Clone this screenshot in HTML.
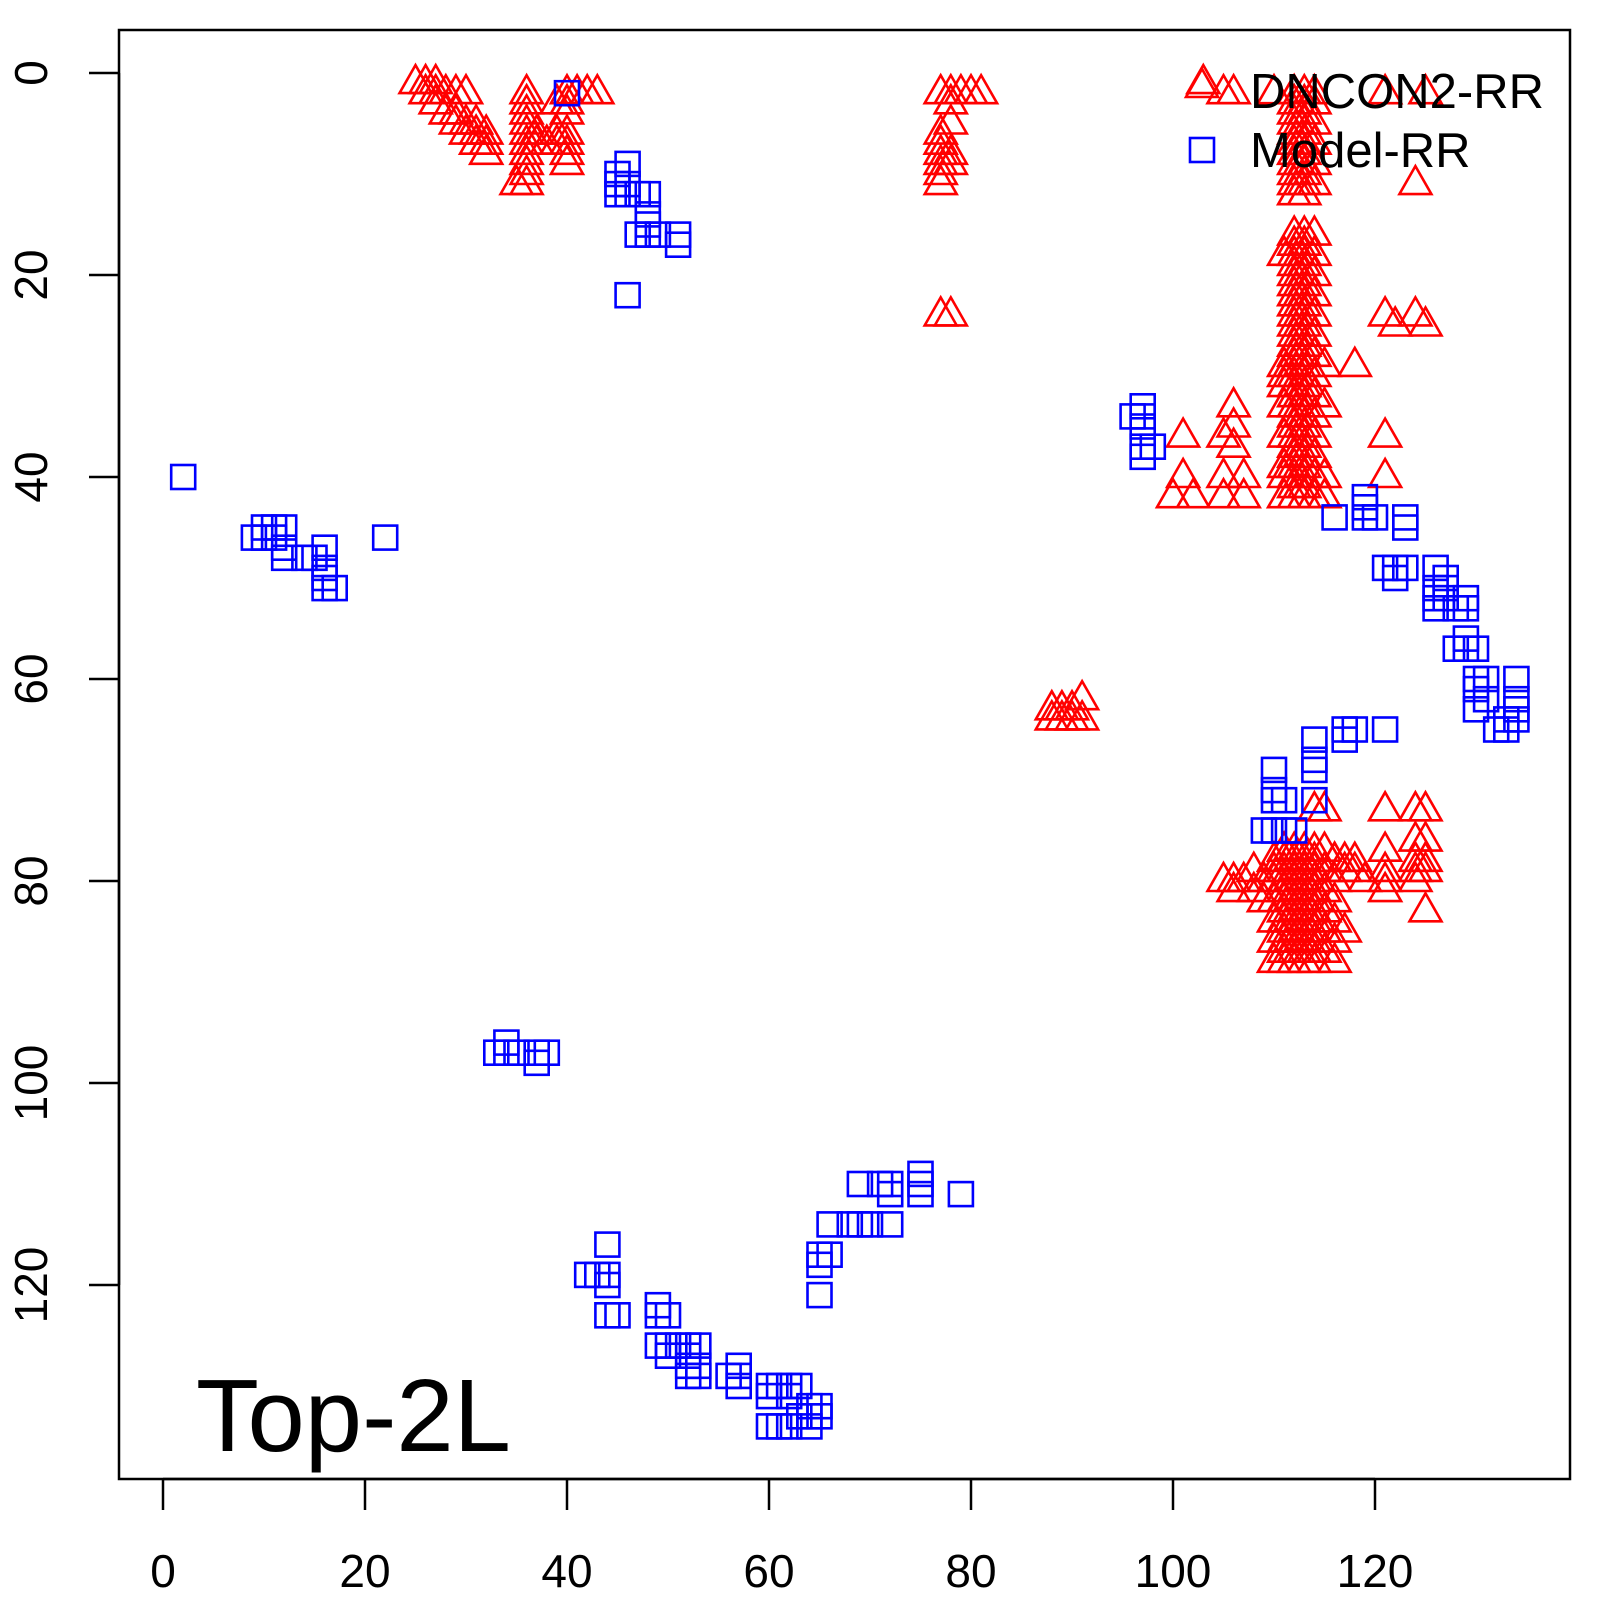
<!DOCTYPE html>
<html><head><meta charset="utf-8"><style>html,body{margin:0;padding:0;background:#fff}svg{display:block}</style></head>
<body>
<svg id="s" width="1600" height="1600" xmlns="http://www.w3.org/2000/svg" font-family="Liberation Sans, sans-serif">
<rect x="0" y="0" width="1600" height="1600" fill="#fff"/>
<g id="pts"></g>
<rect x="119" y="30" width="1451" height="1449" fill="none" stroke="#000" stroke-width="2.5"/>
<g stroke="#000" stroke-width="2.5">
<line x1="163" y1="1479" x2="1375" y2="1479"/>
<line x1="163" y1="1479" x2="163" y2="1510"/><line x1="365" y1="1479" x2="365" y2="1510"/>
<line x1="567" y1="1479" x2="567" y2="1510"/><line x1="769" y1="1479" x2="769" y2="1510"/>
<line x1="971" y1="1479" x2="971" y2="1510"/><line x1="1173" y1="1479" x2="1173" y2="1510"/>
<line x1="1375" y1="1479" x2="1375" y2="1510"/>
<line x1="119" y1="73" x2="119" y2="1285"/>
<line x1="89" y1="73" x2="119" y2="73"/><line x1="89" y1="275" x2="119" y2="275"/>
<line x1="89" y1="477" x2="119" y2="477"/><line x1="89" y1="679" x2="119" y2="679"/>
<line x1="89" y1="881" x2="119" y2="881"/><line x1="89" y1="1083" x2="119" y2="1083"/>
<line x1="89" y1="1285" x2="119" y2="1285"/>
</g>
<g font-size="46" text-anchor="middle" fill="#000">
<text x="163" y="1587">0</text><text x="365" y="1587">20</text><text x="567" y="1587">40</text>
<text x="769" y="1587">60</text><text x="971" y="1587">80</text><text x="1173" y="1587">100</text><text x="1375" y="1587">120</text>
<text transform="translate(47,73) rotate(-90)">0</text>
<text transform="translate(47,275) rotate(-90)">20</text>
<text transform="translate(47,477) rotate(-90)">40</text>
<text transform="translate(47,679) rotate(-90)">60</text>
<text transform="translate(47,881) rotate(-90)">80</text>
<text transform="translate(47,1083) rotate(-90)">100</text>
<text transform="translate(47,1285) rotate(-90)">120</text>
</g>
<text x="196" y="1451" font-size="103" fill="#000">Top-2L</text>
<g id="leg"></g>
<text x="1250" y="108" font-size="49" fill="#000">DNCON2-RR</text>
<text x="1250" y="167" font-size="49" fill="#000">Model-RR</text>
</svg>
<script>
var NS="http://www.w3.org/2000/svg";
function X(x){return 163+x*10.1}function Y(y){return 73+y*10.1}
var g=document.getElementById('pts');
function tri(px,py,par){var p=document.createElementNS(NS,'path');
p.setAttribute('d','M'+(px-16)+' '+(py+10)+'L'+px+' '+(py-18)+'L'+(px+16)+' '+(py+10)+'Z');
p.setAttribute('fill','none');p.setAttribute('stroke','#f00');p.setAttribute('stroke-width','2.6');(par||g).appendChild(p);}
function sq(px,py,par){var p=document.createElementNS(NS,'rect');
p.setAttribute('x',px-12);p.setAttribute('y',py-12);p.setAttribute('width',24);p.setAttribute('height',24);
p.setAttribute('fill','none');p.setAttribute('stroke','#00f');p.setAttribute('stroke-width','2.6');(par||g).appendChild(p);}
var red=[[25,1],[26,1],[27,1],[26,2],[27,2],[28,2],[29,2],[30,2],[27,3],[28,4],[29,4],[30,5],[31,5],[29,5],[30,6],[31,6],[32,6],[31,7],[32,7],[32,8],
[35,11],[37,6],[37,7],[39,6],[40,6],[39,7],[40,7],[40,8],[40,9],[38,7],[40,2],[40,3],[40,4],[41,2],[42,2],[43,2],[39,3],
[77,2],[78,2],[79,2],[80,2],[81,2],[78,3],[77,6],[78,5],[77,7],[78,8],[77,8],[77,9],[78,9],[77,10],[77,11],[77,24],[78,24],
[103,1],[105,2],[106,2],[110,2],[112,2],[114,2],[121,2],[125,2],[124,11],
[121,24],[122,25],[124,24],[125,25],[118,29],[121,36],[121,40],
[101,36],[101,40],[100,42],[102,42],[105,36],[106,33],[106,35],[106,37],[105,40],[107,40],[105,42],[107,42],[115,40],[115,42],[111,18],[111,29],[111,31],[115,33],[115,29],[111,40],
[88,63],[89,63],[90,63],[91,62],[89,64],[91,64],[88,64],[90,64],
[105,80],[106,81],[107,80],[108,81],[109,80],[110,79],[106,80],[109,82],[108,79],[117,85],[121,73],[124,73],[125,73],[125,76],[124,76],[125,78],[124,78],[121,79],[121,81],[117,79],[118,79],[119,80],[124,79],[125,79],[125,83],[114,73],[115,73],[116,78],[117,78],[118,78],[121,77],[124,80],[121,80]];
for(var i=0;i<red.length;i++)tri(X(red[i][0]),Y(red[i][1]));
for(var y=2;y<=12;y++){tri(X(112),Y(y));tri(X(113),Y(y));if(y%2)tri(X(114),Y(y));}
for(var y=2;y<=11;y++){tri(X(36),Y(y));}
for(var y=16;y<=42;y++){tri(X(112),Y(y));tri(X(113),Y(y));if(y%2==0)tri(X(114),Y(y));if(y>27&&y%3==0)tri(X(111),Y(y));}
for(var y=77;y<=88;y++){for(var x=110;x<=116;x++){if((x+y)%2==0||(x>=111&&x<=114))tri(X(x),Y(y));}}
var blue=[[2,40],[9,46],[10,45],[11,46],[12,45],[12,47],[12,48],[14,48],[15,48],[16,47],[16,49],[16,50],[16,51],[17,51],[22,46],[10,46],[11,45],
[40,2],[46,9],[45,10],[46,11],[45,12],[47,12],[48,12],[48,14],[47,16],[48,16],[49,16],[51,16],[51,17],[46,22],[46,12],[45,11],[48,15],
[34,96],[33,97],[34,97],[35,97],[37,97],[38,97],[37,98],
[44,116],[42,119],[43,119],[44,119],[44,120],[44,123],[45,123],[49,122],[49,123],[50,123],[49,126],[50,126],[50,127],[51,126],[52,126],[53,126],[52,127],[52,128],[53,128],[52,129],[53,129],[57,128],[56,129],[57,129],[57,130],[60,130],[61,130],[62,130],[63,130],[60,131],[62,131],[60,134],[61,134],[62,134],[64,134],[63,133],[64,133],[65,132],[65,133],[64,132],
[65,117],[65,118],[65,121],[66,117],[66,114],[68,114],[69,114],[70,114],[69,110],[71,110],[72,110],[72,111],[72,114],[75,109],[75,110],[75,111],[79,111],
[96,34],[97,33],[97,35],[97,37],[97,38],[98,37],[97,34],
[116,44],[119,42],[119,43],[119,44],[120,44],[123,44],[123,45],[121,49],[122,49],[122,50],[123,49],[126,49],[126,51],[126,52],[127,50],[127,52],[128,53],[129,52],[129,53],[126,53],[128,57],[129,57],[130,57],[129,56],[130,60],[130,61],[131,60],[131,62],[130,63],[134,60],[134,62],[134,63],[134,64],[133,64],[132,65],[133,65],[127,51],
[117,65],[118,65],[117,66],[121,65],[114,66],[114,68],[114,69],[114,72],[110,69],[110,71],[110,72],[111,72],[109,75],[110,75],[111,75],[112,75]];
for(var i=0;i<blue.length;i++)sq(X(blue[i][0]),Y(blue[i][1]));
var lg=document.getElementById('leg');tri(1202,87,lg);sq(1202,150,lg);
</script>
</body></html>
